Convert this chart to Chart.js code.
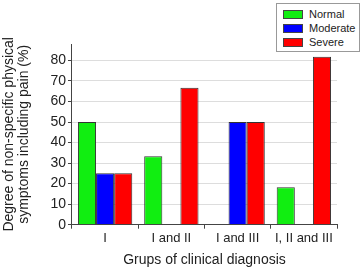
<!DOCTYPE html>
<html>
<head>
<meta charset="utf-8">
<script src="https://cdn.jsdelivr.net/npm/chart.js@4"></script>
<style>
  html, body { margin: 0; padding: 0; background: #fff; }
  #wrap { position: relative; width: 361px; height: 267px; }
  #legend { position: absolute; left: 276px; top: 3px; width: 82px; border: 1px solid #999; background: #fff;
            font: 11px Arial, "Liberation Sans", sans-serif; color: #222; padding: 3px 0 2px 0; }
  #legend div { height: 14px; line-height: 14px; white-space: nowrap; }
  #legend span { display: inline-block; width: 20px; height: 9px; margin: 0 6px 0 6px; vertical-align: -1px; border: 1px solid #444; box-sizing: border-box; }
</style>
</head>
<body>
<div id="wrap">
  <canvas id="chart" width="361" height="267"></canvas>
  <div id="legend"></div>
</div>
<script>
// Groups and percentages per symptom degree
var groups = ['I', 'I and II', 'I and III', 'I, II and III'];
var normal = [50, 33.3, 0, 18.2];
var moderate = [25, 0, 50, 0];
var severe = [25, 66.7, 50, 81.8];
var seriesNames = ['Normal', 'Moderate', 'Severe'];
var seriesColors = ['#11ee11', '#0000ff', '#ff0000'];
var yTicks = [0, 10, 20, 30, 40, 50, 60, 70, 80];

var ctx = document.getElementById('chart').getContext('2d');
var chart = new Chart(ctx, {
    type: 'bar',
    data: {
        labels: groups,
        datasets: [normal, moderate, severe].map(function (d, i) {
            return {
                label: seriesNames[i],
                data: d,
                backgroundColor: seriesColors[i],
                borderColor: '#333',
                borderWidth: 1,
                categoryPercentage: 0.82,
                barPercentage: 1
            };
        })
    },
    options: {
        responsive: false,
        animation: false,
        layout: { padding: { top: 44, right: 24, left: 2, bottom: 0 } },
        plugins: { legend: { display: false }, tooltip: { enabled: false } },
        scales: {
            y: {
                min: 0,
                max: 88,
                afterBuildTicks: function (axis) {
                    axis.ticks = yTicks.map(function (v) { return { value: v }; });
                },
                ticks: {
                    color: '#222',
                    font: { family: 'Arial', size: 14 },
                    padding: 2
                },
                grid: { color: '#ddd', tickColor: '#444', tickLength: 4 },
                border: { color: '#444' },
                title: {
                    display: true,
                    text: ['Degree of non-specific physical', 'symptoms including pain (%)'],
                    color: '#222',
                    font: { family: 'Arial', size: 14, lineHeight: 1.05 },
                    padding: { top: 0, bottom: 17 }
                }
            },
            x: {
                ticks: { color: '#222', font: { family: 'Arial', size: 13, lineHeight: 1.1 }, padding: 3 },
                grid: { drawOnChartArea: false, tickColor: '#444', tickLength: 4, offset: true },
                border: { color: '#444' },
                title: {
                    display: true,
                    text: 'Grups of clinical diagnosis',
                    color: '#222',
                    font: { family: 'Arial', size: 14, lineHeight: 1 },
                    padding: { top: 4, bottom: 0 }
                }
            }
        }
    }
});

var legendEl = document.getElementById('legend');
seriesNames.forEach(function (name, i) {
    var row = document.createElement('div');
    var box = document.createElement('span');
    box.style.background = seriesColors[i];
    row.appendChild(box);
    row.appendChild(document.createTextNode(name));
    legendEl.appendChild(row);
});
</script>
</body>
</html>
